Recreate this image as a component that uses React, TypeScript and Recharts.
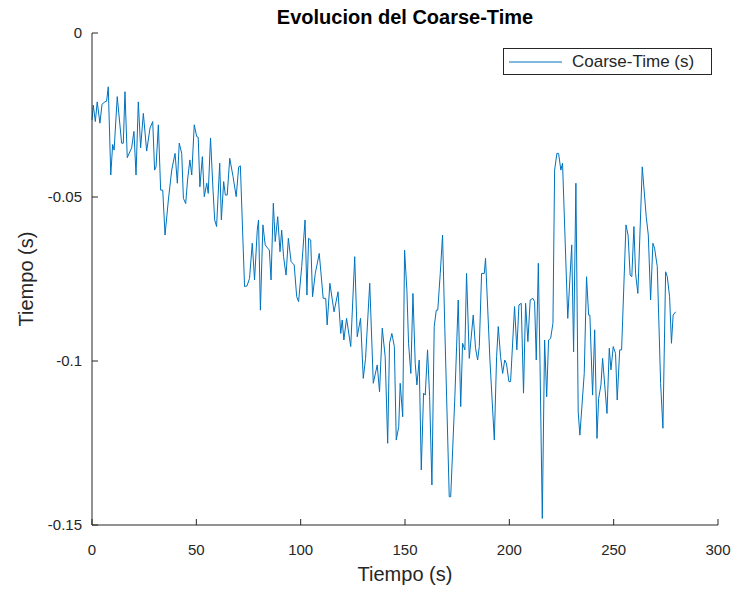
import React from 'react';
import { LineChart, Line, XAxis, YAxis, Legend } from 'recharts';

const timeS = [
  0, 0.6, 1.6, 2.5, 3.8, 4.8, 6.2, 7.0, 7.8, 9.0,
  9.9, 10.6, 12.1, 14.2, 15.0, 15.8, 16.9, 19.0, 20.1, 21.1,
  22.2, 23.3, 24.6, 26.2, 27.8, 29.1, 30.0, 30.7, 31.8, 32.9,
  33.9, 35.0, 36.6, 38.2, 39.8, 40.9, 41.8, 43.0, 43.8, 44.9,
  45.8, 46.9, 47.8, 49.0, 50.2, 50.9, 51.7, 52.9, 53.8, 55.0,
  55.7, 56.8, 58.0, 58.8, 59.7, 61.2, 62.0, 63.1, 63.9, 64.8,
  66.0, 67.6, 69.1, 70.3, 71.1, 73.1, 74.3, 75.5, 76.8, 77.9,
  79.2, 79.8, 80.7, 81.9, 83.0, 84.2, 85.0, 85.8, 86.9, 87.8,
  89.0, 90.1, 90.9, 91.8, 93.0, 94.1, 95.4, 96.9, 98.1, 99.0,
  100.5, 102.1, 103.0, 103.8, 104.8, 105.7, 107.0, 108.9, 110.8, 112.0,
  112.7, 114.0, 116.0, 117.9, 119.2, 119.9, 120.7, 122.0, 124.0, 125.9,
  127.1, 128.7, 130.0, 131.1, 133.1, 134.8, 136.7, 137.8, 139.1, 140.5,
  141.7, 142.6, 143.7, 144.9, 145.8, 147.0, 147.7, 148.9, 149.8, 150.9,
  151.7, 152.8, 153.8, 154.9, 155.7, 156.8, 157.8, 158.9, 159.7, 160.8,
  161.8, 162.9, 164.0, 165.0, 165.7, 166.9, 168.0, 169.1, 171.2, 171.9,
  173.9, 175.5, 176.7, 177.6, 178.7, 179.5, 180.8, 182.7, 183.8, 184.8,
  185.6, 186.7, 188.0, 188.6, 190.7, 192.8, 193.9, 194.7, 195.8, 196.8,
  197.8, 198.6, 199.8, 200.6, 202.5, 203.6, 204.6, 205.7, 206.8, 207.8,
  208.9, 210.0, 211.3, 212.1, 212.9, 213.9, 214.7, 215.8, 216.9, 217.9,
  218.8, 219.8, 220.9, 221.7, 222.8, 223.6, 224.7, 225.5, 228.0, 229.9,
  230.8, 231.9, 233.0, 233.8, 235.9, 237.0, 238.0, 238.6, 239.9, 240.9,
  242.0, 242.8, 243.9, 244.7, 246.8, 247.9, 248.7, 249.8, 250.9, 251.7,
  252.9, 253.8, 255.9, 256.9, 257.9, 258.7, 259.7, 260.5, 261.6, 263.7,
  265.6, 266.6, 267.7, 268.8, 269.6, 270.9, 272.5, 273.6, 274.9, 275.7,
  276.8, 277.7, 278.5, 279.7,
];

const coarseTime = [
  -0.0265, -0.022, -0.027, -0.021, -0.0275, -0.0217, -0.021, -0.0208, -0.0164, -0.0433,
  -0.034, -0.0357, -0.0194, -0.0336, -0.0336, -0.0179, -0.038, -0.035, -0.03, -0.0433,
  -0.021, -0.035, -0.0245, -0.036, -0.029, -0.027, -0.0418, -0.0408, -0.028, -0.0479,
  -0.0479, -0.0616, -0.0509, -0.0418, -0.0367, -0.0458, -0.0336, -0.0367, -0.0504, -0.052,
  -0.0448, -0.0387, -0.0433, -0.028, -0.0316, -0.0318, -0.0469, -0.0377, -0.0499, -0.0458,
  -0.0489, -0.032, -0.0479, -0.057, -0.059, -0.0397, -0.057, -0.0453, -0.0494, -0.0494,
  -0.0382, -0.0438, -0.0499, -0.0408, -0.0405, -0.0773, -0.0771, -0.0748, -0.0641, -0.0753,
  -0.0601, -0.057, -0.0845, -0.0585, -0.0646, -0.0656, -0.0662, -0.0753, -0.0519, -0.0636,
  -0.056, -0.0667, -0.0601, -0.0682, -0.0738, -0.0626, -0.0697, -0.0707, -0.0804, -0.0819,
  -0.0712, -0.057, -0.0799, -0.0626, -0.0631, -0.0804, -0.0733, -0.0672, -0.0809, -0.0809,
  -0.089, -0.0763, -0.085, -0.0789, -0.0916, -0.0875, -0.0936, -0.087, -0.0956, -0.0682,
  -0.0926, -0.087, -0.1053, -0.0992, -0.0763, -0.1068, -0.1012, -0.1094, -0.09, -0.0987,
  -0.1251, -0.0946, -0.0916, -0.0956, -0.1241, -0.12, -0.1068, -0.117, -0.0662, -0.0784,
  -0.0946, -0.1038, -0.0794, -0.1007, -0.1073, -0.0997, -0.1332, -0.1098, -0.1104, -0.0966,
  -0.1109, -0.1378, -0.0895, -0.0845, -0.0845, -0.0733, -0.0616, -0.0905, -0.1414, -0.1414,
  -0.1109, -0.0814, -0.1139, -0.0946, -0.0966, -0.0733, -0.0992, -0.086, -0.0961, -0.0997,
  -0.0956, -0.0733, -0.0733, -0.0687, -0.0997, -0.1241, -0.0987, -0.0895, -0.0987, -0.1038,
  -0.0997, -0.1007, -0.1063, -0.1063, -0.0834, -0.0966, -0.0829, -0.0824, -0.1098, -0.0824,
  -0.0941, -0.0814, -0.0809, -0.0819, -0.0997, -0.0702, -0.1007, -0.148, -0.0936, -0.1109,
  -0.0936, -0.0931, -0.0885, -0.0418, -0.0367, -0.0367, -0.0418, -0.0397, -0.087, -0.0646,
  -0.0972, -0.0458, -0.1155, -0.1226, -0.1038, -0.0743, -0.086, -0.086, -0.1104, -0.0905,
  -0.1236, -0.1114, -0.1073, -0.0992, -0.116, -0.0961, -0.1027, -0.0956, -0.0977, -0.1119,
  -0.0966, -0.0966, -0.0585, -0.0616, -0.0738, -0.0743, -0.059, -0.0733, -0.0794, -0.0408,
  -0.056, -0.0616, -0.0814, -0.0641, -0.0656, -0.0712, -0.1068, -0.1205, -0.0728, -0.0743,
  -0.0804, -0.0946, -0.086, -0.085,
];

const xTicks = [0, 50, 100, 150, 200, 250, 300];
const yTicks = [-0.15, -0.1, -0.05, 0];
const seriesName = 'Coarse-Time (s)';
const titleText = 'Evolucion del Coarse-Time';
const xLabelText = 'Tiempo (s)';
const yLabelText = 'Tiempo (s)';

const data = timeS.map((t, i) => ({ t, v: coarseTime[i] }));

const FONT = '"Liberation Sans", Arial, Helvetica, sans-serif';
const INK = '#262626';
const BLUE = '#0072BD';

const W = 736;
const H = 594;
const M = { top: 33, right: 18, bottom: 39, left: 0 };

const tickStyle = { fill: INK, fontSize: 15, fontFamily: FONT };
const lineStyle = { stroke: INK, strokeWidth: 1 };

const renderLegend = (props: any) => {
  const item = props && props.payload && props.payload[0];
  const label = item ? item.value : seriesName;
  const color = item ? item.color : BLUE;
  return (
    <div
      style={{
        width: 209,
        height: 27,
        boxSizing: 'border-box',
        border: '1px solid ' + INK,
        background: '#fff',
        display: 'flex',
        alignItems: 'center',
        fontFamily: FONT,
        fontSize: 17,
        color: INK,
        whiteSpace: 'nowrap',
      }}
    >
      <svg width={63} height={10} style={{ marginLeft: 5, flex: 'none' }}>
        <line x1={0} x2={53} y1={5} y2={5} stroke={color} strokeWidth={1} />
      </svg>
      <span>{label}</span>
    </div>
  );
};

export default function App() {
  return (
    <div style={{ position: 'absolute', left: 0, top: 0, width: W, height: H, background: '#fff' }}>
      <LineChart width={W} height={H} data={data} margin={M}>
        <XAxis
          xAxisId="b"
          dataKey="t"
          type="number"
          domain={[0, 300]}
          ticks={xTicks}
          height={30}
          tickSize={-6}
          tickMargin={25}
          tick={tickStyle}
          axisLine={lineStyle}
          tickLine={lineStyle}
          interval={0}
        />
        <XAxis
          xAxisId="t"
          orientation="top"
          dataKey="t"
          type="number"
          domain={[0, 300]}
          ticks={xTicks}
          height={0}
          tickSize={-6}
          tickFormatter={() => ''}
          axisLine={lineStyle}
          tickLine={lineStyle}
          interval={0}
        />
        <YAxis
          yAxisId="l"
          type="number"
          domain={[-0.15, 0]}
          ticks={yTicks}
          width={92}
          tickSize={-6}
          tickMargin={16}
          tick={tickStyle}
          axisLine={lineStyle}
          tickLine={lineStyle}
          tickFormatter={(v: number) => String(v)}
          interval={0}
        />
        <YAxis
          yAxisId="r"
          orientation="right"
          type="number"
          domain={[-0.15, 0]}
          ticks={yTicks}
          width={0}
          tickSize={-6}
          tickFormatter={() => ''}
          axisLine={lineStyle}
          tickLine={lineStyle}
          interval={0}
        />
        <Legend
          layout="horizontal"
          verticalAlign="middle"
          align="center"
          content={renderLegend}
          wrapperStyle={{ left: 503, top: 48, width: 209, height: 27 }}
        />
        <Line
          xAxisId="b"
          yAxisId="l"
          type="linear"
          dataKey="v"
          name={seriesName}
          stroke={BLUE}
          strokeWidth={1}
          dot={false}
          activeDot={false}
          isAnimationActive={false}
        />
      </LineChart>
      <div
        style={{
          position: 'absolute',
          left: 92,
          top: 5,
          width: 626,
          height: 24,
          lineHeight: '24px',
          textAlign: 'center',
          fontFamily: FONT,
          fontWeight: 'bold',
          fontSize: 20,
          color: '#000',
          whiteSpace: 'nowrap',
        }}
      >
        {titleText}
      </div>
      <div
        style={{
          position: 'absolute',
          left: 92,
          top: 562,
          width: 626,
          height: 24,
          lineHeight: '24px',
          textAlign: 'center',
          fontFamily: FONT,
          fontSize: 20,
          color: INK,
          whiteSpace: 'nowrap',
        }}
      >
        {xLabelText}
      </div>
      <div
        style={{
          position: 'absolute',
          left: 26 - 246,
          top: 279 - 12,
          width: 492,
          height: 24,
          lineHeight: '24px',
          textAlign: 'center',
          fontFamily: FONT,
          fontSize: 20,
          color: INK,
          whiteSpace: 'nowrap',
          transform: 'rotate(-90deg)',
        }}
      >
        {yLabelText}
      </div>
    </div>
  );
}
